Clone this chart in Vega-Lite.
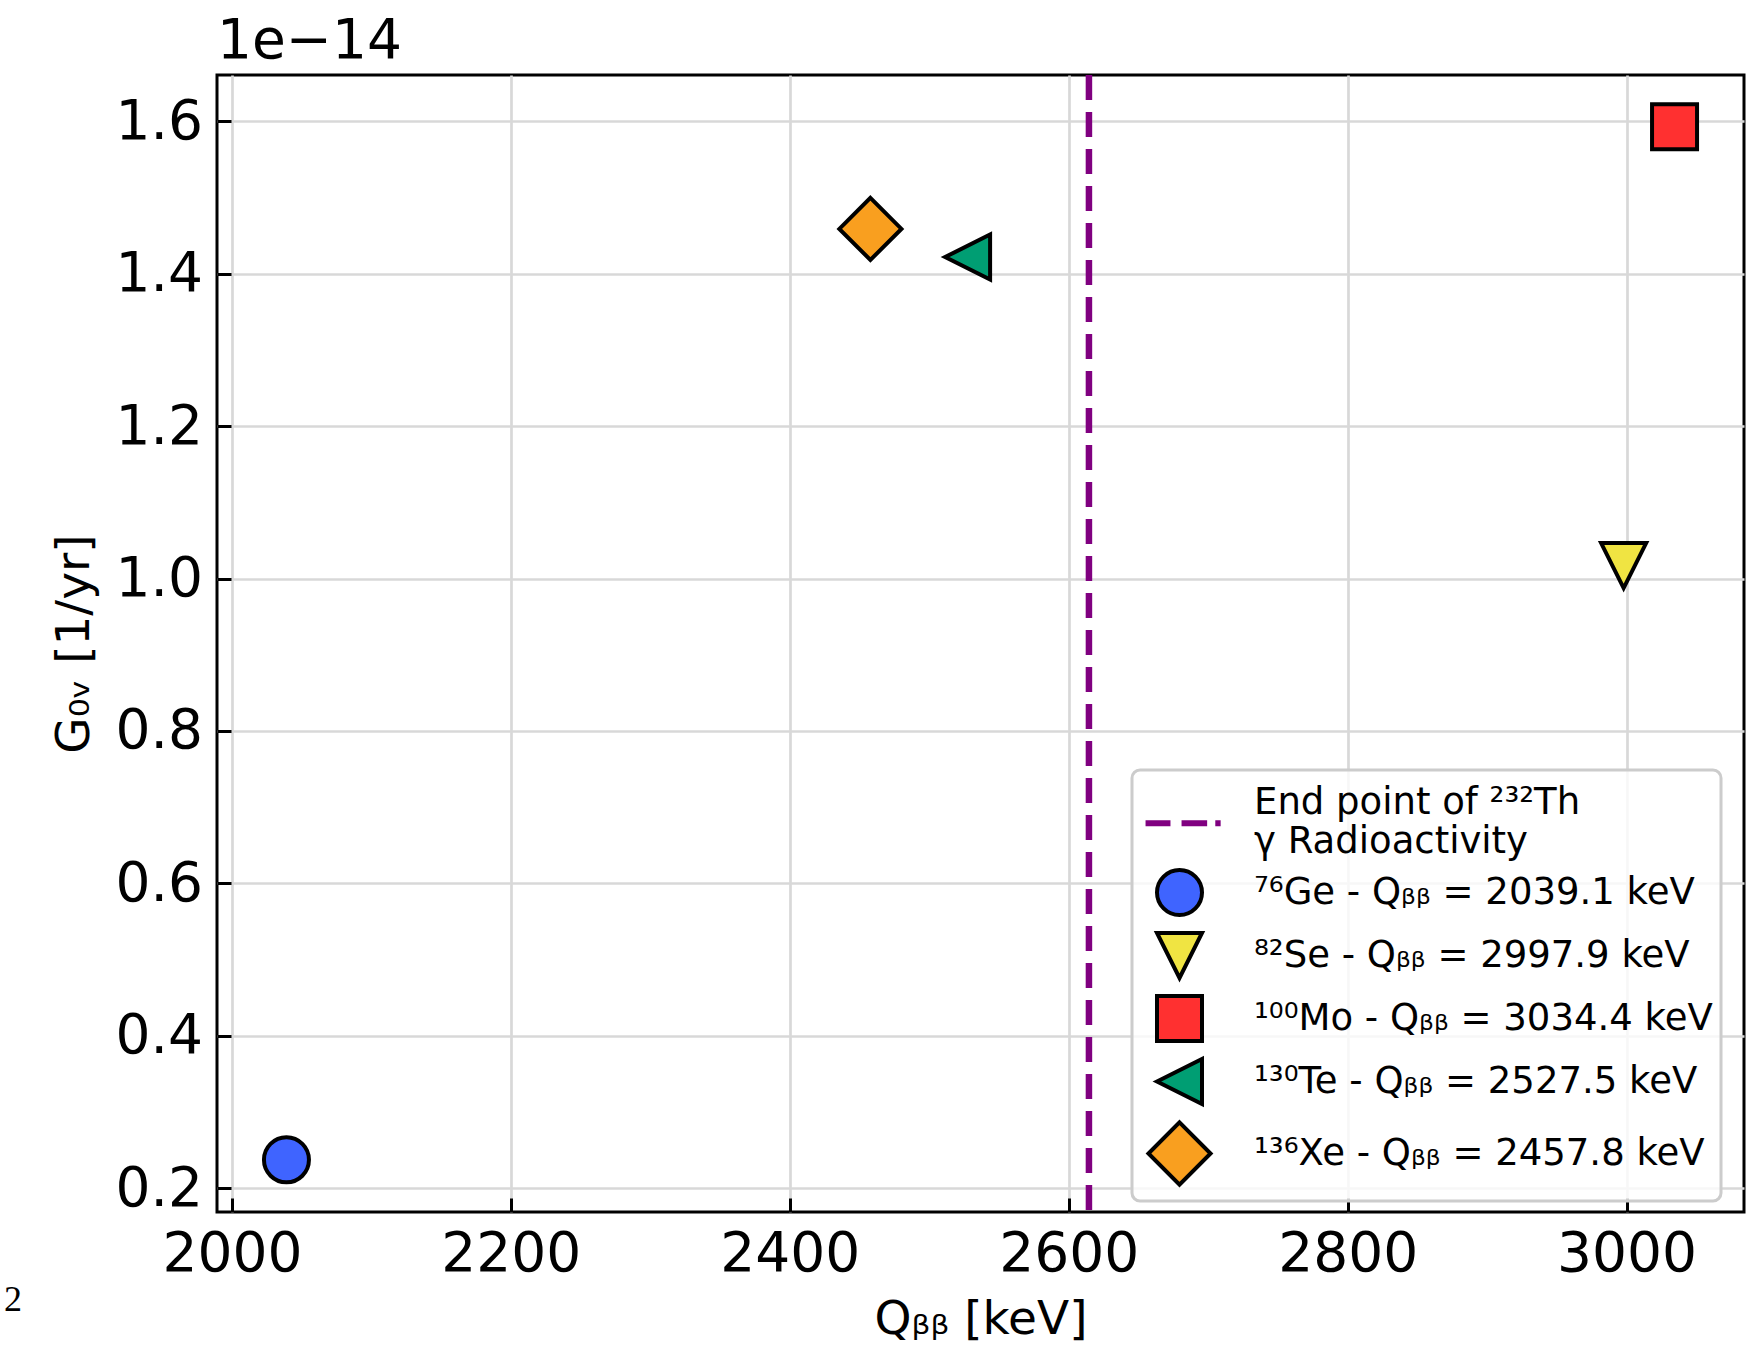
{
  "$schema": "https://vega.github.io/schema/vega-lite/v6.json",
  "autosize": {"type": "none"},
  "padding": {"left": 217, "top": 75, "right": 20, "bottom": 137},
  "width": 1527,
  "height": 1137,
  "background": "white",
  "title": {"text": "1e−14", "anchor": "start", "frame": "group", "fontSize": 55, "fontWeight": "normal", "font": "DejaVu Sans", "baseline": "alphabetic", "offset": -41, "color": "black"},
  "config": {
    "font": "DejaVu Sans",
    "view": {"stroke": "black", "strokeWidth": 3},
    "axis": {
      "domain": false,
      "tickColor": "black", "tickWidth": 3, "tickSize": -14,
      "gridColor": "#d8d8d8", "gridWidth": 2.7,
      "labelFontSize": 55, "labelColor": "black", "labelFont": "DejaVu Sans",
      "titleFontSize": 47, "titleFontWeight": "normal", "titleColor": "black", "titleFont": "DejaVu Sans"
    },
    "legend": {
      "orient": "none", "legendX": 915, "legendY": 695, "direction": "vertical",
      "padding": 8, "rowPadding": 2,
      "symbolSize": 2025, "symbolStrokeWidth": 4, "symbolOffset": 15, "labelFontSize": 37, "labelLimit": 0,
      "labelOffset": 50, "labelColor": "black", "labelFont": "DejaVu Sans",
      "fillColor": "rgba(255,255,255,0.8)", "strokeColor": "#cccccc", "cornerRadius": 8, "strokeWidth": 3
    }
  },
  "layer": [
    {
      "data": {"values": [{"x": 2614.5}]},
      "mark": {"type": "rule", "color": "#800080", "strokeWidth": 6.5, "strokeDash": [25, 12]},
      "encoding": {
        "x": {"field": "x", "type": "quantitative", "scale": {"domain": [1989.3, 3084.2], "nice": false, "zero": false},
              "axis": {"values": [2000, 2200, 2400, 2600, 2800, 3000], "format": "d", "labelPadding": 29, "title": "Qᵦᵦ [keV]", "titleY": 121, "titleBaseline": "alphabetic"}}
      }
    },
    {
      "data": {"values": [
        {"x": 2039.1, "y": 0.237, "label": "⁷⁶Ge - Qᵦᵦ = 2039.1 keV"},
        {"x": 2997.9, "y": 1.017, "label": "⁸²Se - Qᵦᵦ = 2997.9 keV"},
        {"x": 3034.4, "y": 1.593, "label": "¹⁰⁰Mo - Qᵦᵦ = 3034.4 keV"},
        {"x": 2527.5, "y": 1.422, "label": "¹³⁰Te - Qᵦᵦ = 2527.5 keV"},
        {"x": 2457.8, "y": 1.459, "label": "¹³⁶Xe - Qᵦᵦ = 2457.8 keV"}
      ]},
      "mark": {"type": "point", "filled": true, "size": 2025, "strokeWidth": 4, "opacity": 1},
      "encoding": {
        "x": {"field": "x", "type": "quantitative", "scale": {"domain": [1989.3, 3084.2], "nice": false, "zero": false}},
        "y": {"field": "y", "type": "quantitative", "scale": {"domain": [0.1685, 1.661], "nice": false, "zero": false},
              "axis": {"values": [0.2, 0.4, 0.6, 0.8, 1.0, 1.2, 1.4, 1.6], "format": ".1f", "labelPadding": 28.5, "title": "G₀ᵥ [1/yr]", "titleX": -129, "titleBaseline": "alphabetic"}},
        "fill": {"field": "label", "type": "nominal",
          "scale": {"domain": ["End point of ²³²Th|γ Radioactivity", "⁷⁶Ge - Qᵦᵦ = 2039.1 keV", "⁸²Se - Qᵦᵦ = 2997.9 keV", "¹⁰⁰Mo - Qᵦᵦ = 3034.4 keV", "¹³⁰Te - Qᵦᵦ = 2527.5 keV", "¹³⁶Xe - Qᵦᵦ = 2457.8 keV"],
                    "range": ["#800080", "#3F64FF", "#F0E442", "#FF3030", "#009E73", "#F99F1F"]},
          "legend": {"title": null, "labelExpr": "split(datum.label, '|')", "encode": {"labels": {"update": {"lineHeight": {"value": 41.5}}}}}},
        "stroke": {"field": "label", "type": "nominal",
          "scale": {"domain": ["End point of ²³²Th|γ Radioactivity", "⁷⁶Ge - Qᵦᵦ = 2039.1 keV", "⁸²Se - Qᵦᵦ = 2997.9 keV", "¹⁰⁰Mo - Qᵦᵦ = 3034.4 keV", "¹³⁰Te - Qᵦᵦ = 2527.5 keV", "¹³⁶Xe - Qᵦᵦ = 2457.8 keV"],
                    "range": ["#800080", "black", "black", "black", "black", "black"]},
          "legend": {"title": null, "labelExpr": "split(datum.label, '|')", "encode": {"labels": {"update": {"lineHeight": {"value": 41.5}}}}}},
        "shape": {"field": "label", "type": "nominal",
          "scale": {"domain": ["End point of ²³²Th|γ Radioactivity", "⁷⁶Ge - Qᵦᵦ = 2039.1 keV", "⁸²Se - Qᵦᵦ = 2997.9 keV", "¹⁰⁰Mo - Qᵦᵦ = 3034.4 keV", "¹³⁰Te - Qᵦᵦ = 2527.5 keV", "¹³⁶Xe - Qᵦᵦ = 2457.8 keV"],
                    "range": ["M-1.42,0.875H-0.49V0.965H-1.42Z M0.18,0.875H1.14V0.965H0.18Z M1.68,0.875H1.74V0.965H1.68Z", "circle", "M-1,-1L1,-1L0,1Z", "square", "M-1,0L1,-1L1,1Z", "M0,-1.38L1.38,0L0,1.38L-1.38,0Z"]},
          "legend": {"title": null, "labelExpr": "split(datum.label, '|')", "encode": {"labels": {"update": {"lineHeight": {"value": 41.5}}}}}}
      }
    },
    {
      "data": {"values": [{"t": "2", "x": 1843, "y": 0.0385}]},
      "mark": {"type": "text", "font": "Liberation Serif", "fontSize": 36, "align": "center", "baseline": "alphabetic", "color": "black"},
      "encoding": {
        "x": {"field": "x", "type": "quantitative", "scale": {"domain": [1989.3, 3084.2], "nice": false, "zero": false}},
        "y": {"field": "y", "type": "quantitative", "scale": {"domain": [0.1685, 1.661], "nice": false, "zero": false}},
        "text": {"field": "t"}
      }
    }
  ]
}
